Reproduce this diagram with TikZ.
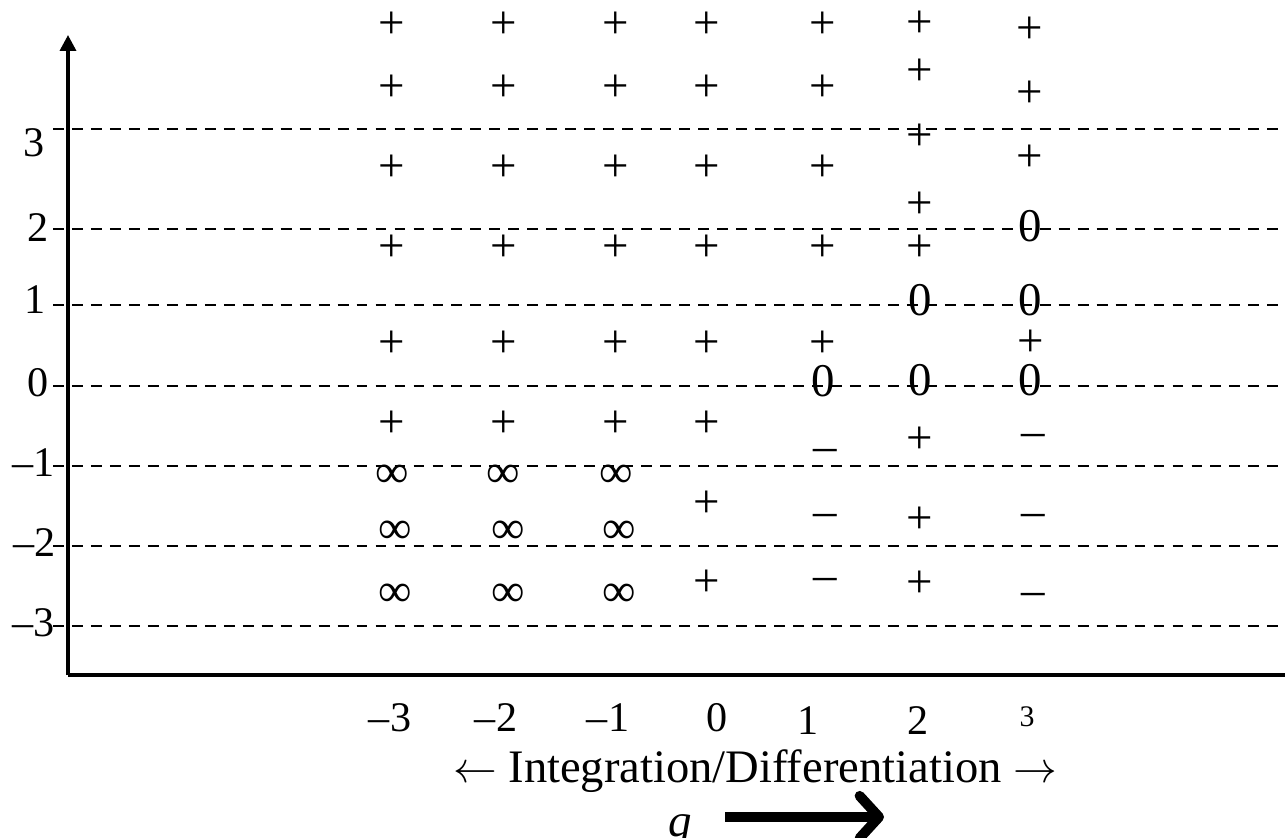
\documentclass[tikz,border=0pt]{standalone}
\usepackage{fontspec}
\setmainfont{Liberation Serif}
\usetikzlibrary{arrows.meta}

\begin{document}
\begin{tikzpicture}[x=0.02cm,y=-0.02cm,
    sym/.style={inner sep=0pt,font=\fontsize{26.7}{28}\selectfont},
    lab/.style={inner sep=0pt,font=\fontsize{24}{26}\selectfont},
    level line/.style={line width=1.5pt,dash pattern=on 6.2pt off 4.6pt},
    axis line/.style={line width=2pt}]
  \useasboundingbox (0,0) rectangle (1285,838);
  % axes
  \coordinate (origin) at (68,675);
  \coordinate (ytop) at (68,35);
  \coordinate (xend) at (1285,675);
  \draw[axis line,-{Triangle[length=9pt,width=9pt]}] (origin) -- (ytop);
  \draw[axis line] (origin) -- (xend);
  % dashed levels and their labels
  \foreach \lab/\ly/\lx/\ty [count=\i] in {3/129/34/143,2/229/38/228,1/305/35/300,0/386/38/383,
      {–1}/466/34/463,{–2}/546/35/543,{–3}/626/34/623}{
    \coordinate (la\i) at (53,\ly);
    \coordinate (lb\i) at (1283,\ly);
    \draw[level line] (la\i) -- (lb\i);
    \node[lab] (ly\i) at (\lx,\ty) {\lab};
  }
  % q labels
  \foreach \lab/\lx/\ty [count=\i] in {{–3}/390/718,{–2}/496/718,{–1}/608/718,0/717/718,1/808/721,2/918/721}
    \node[lab] (qx\i) at (\lx,\ty) {\lab};
  \node[inner sep=0pt,font=\fontsize{17}{18}\selectfont] (qx7) at (1027,717) {3};
  % signs
  \foreach \px in {392,504,616,707}
    \foreach \py in {25,88,168,248,344,424}
      \node[sym] (p\px-\py) at (\px,\py) {+};
  \foreach \px/\py/\s [count=\i] in {392/476/∞,395/532/∞,395/595/∞,503/476/∞,508/532/∞,508/595/∞,
      616/476/∞,619/532/∞,619/595/∞,707/504/+,707/583/+,
      823/25/+,823/88/+,823/168/+,823/248/+,823/344/+,823/381/0,825/455/–,825/520/–,825/584/–,
      920/24/+,920/72/+,920/137/+,920/205/+,920/248/+,920/300/0,920/380/0,920/440/+,920/520/+,920/584/+,
      1030/30/+,1030/94/+,1030/158/+,1030/226/0,1030/300/0,1031/343/+,1030/380/0,1033/440/–,1033/520/–,1033/599/–}
    \node[sym] (e\i) at (\px,\py) {\s};
  % bottom text
  \node[anchor=base,inner sep=0pt,font=\fontsize{26.5}{28}\selectfont] (dir) at (755,782)
    {$\leftarrow$ Integration/Differentiation $\rightarrow$};
  \node[anchor=base,inner sep=0pt,font=\fontsize{26.5}{28}\selectfont\itshape] (qlab) at (680,836) {q};
  \coordinate (qa) at (725,817);
  \coordinate (qb) at (884,817);
  \draw[line width=5.7pt,-{Straight Barb[length=11pt,width=24pt,round]}] (qa) -- (qb);
\end{tikzpicture}
\end{document}
